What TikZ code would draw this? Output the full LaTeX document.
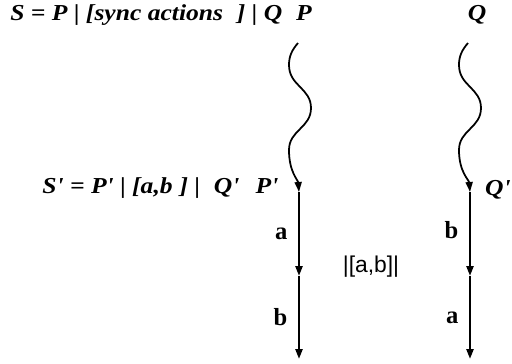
\documentclass[tikz,border=0pt]{standalone}
\usepackage{fontspec}
\setmainfont{Liberation Serif}
\newfontfamily\formfont[FakeStretch=1.12]{Liberation Serif}
\newfontfamily\syncfont{Liberation Sans}
\usetikzlibrary{arrows.meta}

\begin{document}
\begin{tikzpicture}[
		x=0.02cm, y=-0.02cm,
		>={Triangle[length=2mm,width=1.4mm]},
		formula/.style={font=\fontsize{13}{15}\selectfont\formfont\bfseries\itshape,
			inner sep=0pt, anchor=base west},
		state/.style={formula, anchor=base},
		act/.style={font=\fontsize{14}{16}\selectfont\bfseries, inner sep=0pt},
		sync/.style={font=\fontsize{13}{15}\selectfont\syncfont, inner sep=0pt},
		wave/.style={line width=1pt},
		run/.style={line width=1.3pt}
		]
		\useasboundingbox (0,0) rectangle (512,363);
		
		%--- system terms ----------------------------------------------------------
		\node[formula] (sys) at (10,20)
		{S = P {\upshape|} [sync actions\hspace{0.6em}] {\upshape|} Q};
		\node[formula] (sysp) at (42,193)
		{S' = P' {\upshape|} [a,b\hspace{0.3em}] {\upshape|}\hspace{0.6em}Q'};
		
		%--- state names -----------------------------------------------------------
		\node[state] (nP) at (304,20) {P};
		\node[state] (nQ) at (477,20) {Q};
		\node[state] (nPp) at (267,193) {P'};
		\node[formula, anchor=base east] (nQp) at (511,195) {Q'};
		
		%--- points on the two runs ------------------------------------------------
		\coordinate (p0) at (298,43);
		\coordinate (p1) at (299,192);
		\coordinate (p2) at (299,276);
		\coordinate (p3) at (299,359);
		\coordinate (q0) at (468,43);
		\coordinate (q1) at (470,192);
		\coordinate (q2) at (470,276);
		\coordinate (q3) at (470,359);
		
		%--- run of P --------------------------------------------------------------
		\draw[wave,->] (p0) .. controls (292,50) and (289,56) .. (289,65)
		.. controls (289,86) and (311,88) .. (311,108)
		.. controls (311,128) and (289,130) .. (289,150)
		.. controls (289,172) and (298,180) .. (p1);
		\draw[run,->] (p1) -- node[act, left=6pt] (aP) {a} (p2);
		\draw[run,->] (p2) -- node[act, left=6pt] (bP) {b} (p3);
		
		%--- run of Q --------------------------------------------------------------
		\draw[wave,->] (q0) .. controls (462,50) and (459,56) .. (459,65)
		.. controls (459,86) and (481,88) .. (481,108)
		.. controls (481,128) and (459,130) .. (459,150)
		.. controls (459,172) and (469,180) .. (q1);
		\draw[run,->] (q1) -- node[act, left=6pt, pos=0.45] (bQ) {b} (q2);
		\draw[run,->] (q2) -- node[act, left=6pt] (aQ) {a} (q3);
		
		%--- synchronised actions --------------------------------------------------
		\node[sync] (synch) at (371,267) {|[a,b]|};
	\end{tikzpicture}
\end{document}
